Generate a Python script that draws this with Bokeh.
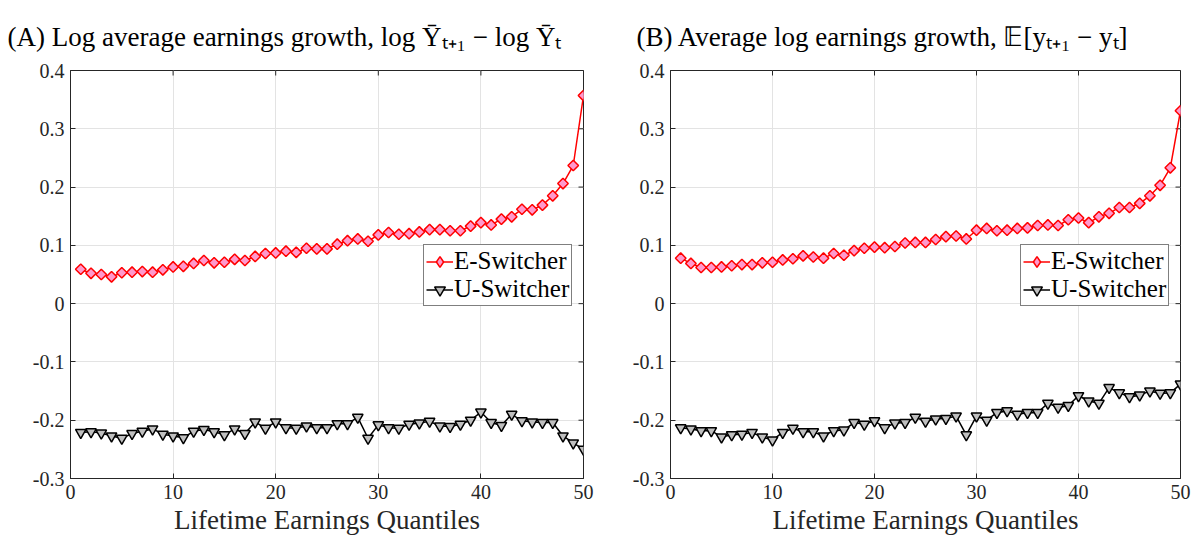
import numpy as np
from bokeh.plotting import figure
from bokeh.layouts import row
from bokeh.models import (Range1d, FixedTicker, CustomJSTickFormatter, Legend, LegendItem)
from bokeh.embed import file_html
from bokeh.resources import INLINE

quantiles = list(range(1, 51))

a_e_switcher = [0.059, 0.052, 0.050, 0.046, 0.053, 0.054, 0.055, 0.054, 0.058, 0.063,
                0.064, 0.069, 0.074, 0.070, 0.071, 0.076, 0.074, 0.081, 0.086, 0.087,
                0.090, 0.088, 0.095, 0.094, 0.094, 0.102, 0.108, 0.111, 0.107, 0.118,
                0.122, 0.119, 0.120, 0.123, 0.127, 0.127, 0.125, 0.125, 0.133, 0.139,
                0.135, 0.145, 0.149, 0.162, 0.161, 0.169, 0.185, 0.206, 0.237, 0.357]
a_u_switcher = [-0.221, -0.220, -0.222, -0.227, -0.231, -0.223, -0.219, -0.215, -0.224, -0.227,
                -0.230, -0.219, -0.216, -0.220, -0.225, -0.215, -0.223, -0.203, -0.214, -0.203,
                -0.213, -0.214, -0.210, -0.213, -0.213, -0.206, -0.206, -0.195, -0.231, -0.208,
                -0.213, -0.214, -0.207, -0.205, -0.202, -0.210, -0.211, -0.207, -0.200, -0.186,
                -0.204, -0.209, -0.190, -0.201, -0.203, -0.204, -0.204, -0.227, -0.239, -0.250]
b_e_switcher = [0.078, 0.069, 0.062, 0.062, 0.063, 0.065, 0.067, 0.067, 0.070, 0.071,
                0.075, 0.077, 0.082, 0.080, 0.078, 0.086, 0.083, 0.091, 0.095, 0.097,
                0.096, 0.098, 0.104, 0.105, 0.105, 0.110, 0.115, 0.116, 0.111, 0.126,
                0.129, 0.125, 0.126, 0.129, 0.130, 0.134, 0.135, 0.134, 0.144, 0.147,
                0.139, 0.149, 0.155, 0.165, 0.165, 0.172, 0.185, 0.203, 0.233, 0.331]
b_u_switcher = [-0.213, -0.215, -0.218, -0.218, -0.229, -0.225, -0.224, -0.221, -0.229, -0.234,
                -0.221, -0.214, -0.220, -0.220, -0.227, -0.218, -0.217, -0.204, -0.207, -0.201,
                -0.213, -0.205, -0.204, -0.195, -0.202, -0.198, -0.197, -0.193, -0.225, -0.193,
                -0.200, -0.187, -0.184, -0.190, -0.187, -0.187, -0.171, -0.178, -0.175, -0.158,
                -0.167, -0.171, -0.144, -0.153, -0.160, -0.157, -0.150, -0.154, -0.153, -0.138]

y_ticks = [-0.3, -0.2, -0.1, 0, 0.1, 0.2, 0.3, 0.4]
x_ticks = [0, 10, 20, 30, 40, 50]
x_lim = [0, 50]
y_lim = [-0.3, 0.4]
series_labels = ["E-Switcher", "U-Switcher"]
x_label = "Lifetime Earnings Quantiles"
title_a = "(A) Log average earnings growth, log Ȳₜ₊₁ − log Ȳₜ"
title_b = "(B) Average log earnings growth, 𝔼[yₜ₊₁ − yₜ]"

FONT = "Liberation Serif"
TXT = "#262626"
fmt = CustomJSTickFormatter(code="return Math.abs(tick) < 1e-9 ? '0' : (Number.isInteger(tick) ? tick.toString() : tick.toFixed(1));")


def style_axis(ax, ticks):
    ax.ticker = FixedTicker(ticks=ticks)
    ax.formatter = fmt
    ax.major_tick_in = 5
    ax.major_tick_out = 0
    ax.minor_tick_line_color = None
    ax.major_tick_line_color = TXT
    ax.axis_line_color = TXT
    ax.major_label_text_font = FONT
    ax.major_label_text_color = TXT
    ax.major_label_text_font_size = "20px"
    ax.major_label_standoff = 6


def make_panel(title, e_vals, u_vals, width, b_left, b_right, t_offset, leg_x):
    p = figure(width=width, height=538, output_backend="svg", toolbar_location=None,
               x_range=Range1d(*x_lim), y_range=Range1d(*y_lim),
               min_border_left=b_left, min_border_right=b_right,
               min_border_top=69, min_border_bottom=60)
    p.title.text = title
    p.title.text_font = FONT
    p.title.text_font_size = "27px"
    p.title.text_font_style = "normal"
    p.title.text_color = "black"
    p.title.align = "left"
    p.title.offset = t_offset
    p.title.standoff = 38

    bottom_axis = p.below[0]
    left_axis = p.left[0]
    style_axis(bottom_axis, x_ticks)
    style_axis(left_axis, y_ticks)
    bottom_axis.axis_label = x_label
    bottom_axis.axis_label_text_font = FONT
    bottom_axis.axis_label_text_font_size = "27px"
    bottom_axis.axis_label_text_font_style = "normal"
    bottom_axis.axis_label_text_color = TXT
    bottom_axis.axis_label_standoff = 3

    p.xgrid.ticker = FixedTicker(ticks=x_ticks)
    p.ygrid.ticker = FixedTicker(ticks=y_ticks)
    p.grid.grid_line_color = "#e3e3e3"
    p.grid.grid_line_width = 1
    p.outline_line_color = TXT
    p.outline_line_width = 1
    p.outline_line_alpha = 1

    # box ticks on the right and top edges (half of each dash is clipped by the frame)
    p.scatter([x_lim[1]] * len(y_ticks), y_ticks, marker="dash", size=10,
              line_color=TXT, line_width=1)
    p.scatter(x_ticks, [y_lim[1]] * len(x_ticks), marker="dash", size=10, angle=np.pi / 2,
              line_color=TXT, line_width=1)

    l1 = p.line(quantiles, e_vals, line_color="#ff0000", line_width=1.5)
    # diamond glyph used for the legend entry; fully covered by the rotated squares below
    s1_leg = p.scatter(quantiles, e_vals, marker="diamond", size=7,
                       fill_color="#ff99cc", line_color="#ff0000", line_width=1.5)
    p.scatter(quantiles, e_vals, marker="square", angle=np.pi / 4, size=7.5,
              fill_color="#ff99cc", line_color="#ff0000", line_width=1.5)
    l2 = p.line(quantiles, u_vals, line_color="black", line_width=1.5)
    s2 = p.scatter(quantiles, u_vals, marker="inverted_triangle", size=10.5,
                   fill_color="#bfbfbf", line_color="black", line_width=1.5)

    legend = Legend(items=[LegendItem(label=series_labels[0], renderers=[l1, s1_leg]),
                           LegendItem(label=series_labels[1], renderers=[l2, s2])],
                    location=(leg_x, 172))
    legend.label_text_font = FONT
    legend.label_text_font_size = "25px"
    legend.label_text_color = "black"
    legend.label_height = 27
    legend.glyph_height = 27
    legend.glyph_width = 27
    legend.label_standoff = 1
    legend.padding = 2
    legend.spacing = 0
    legend.margin = 0
    legend.border_line_color = "black"
    legend.border_line_width = 1
    legend.background_fill_color = "white"
    legend.background_fill_alpha = 1
    p.add_layout(legend, "center")
    return p


pa = make_panel(title_a, a_e_switcher, a_u_switcher, 600, 70, 17, -63, 353)
pb = make_panel(title_b, b_e_switcher, b_u_switcher, 599, 70, 19, -34, 350)
layout = row(pa, pb, spacing=0)

open("out.html", "w").write(file_html(layout, INLINE))
